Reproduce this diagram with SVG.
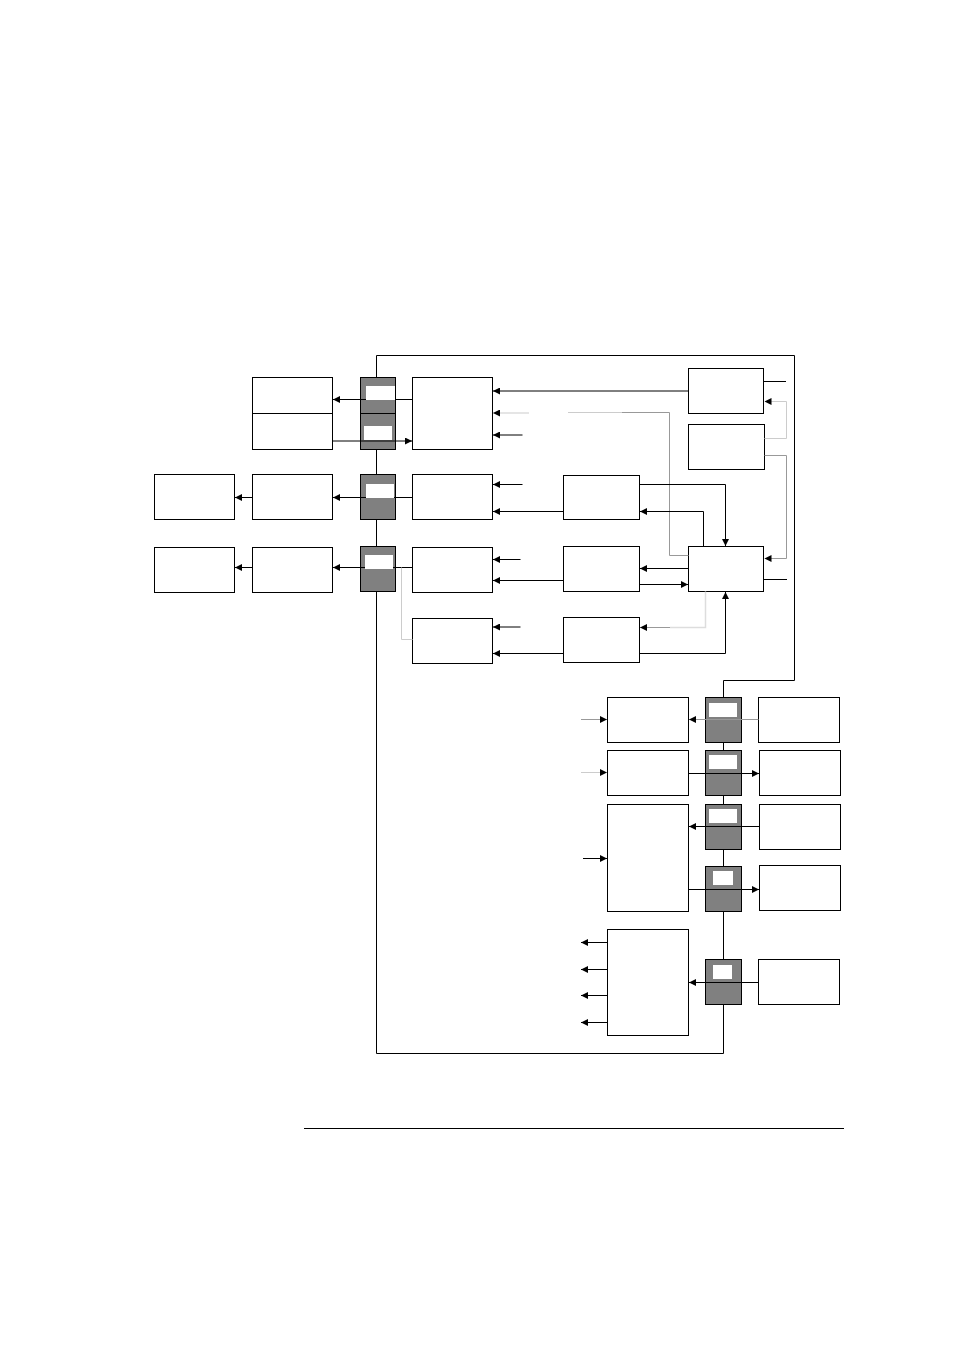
<svg xmlns="http://www.w3.org/2000/svg" width="954" height="1350" viewBox="0 0 954 1350">
<style>
.box{fill:#fff;stroke:#000;stroke-width:1}
.gb{fill:#808080;stroke:#000;stroke-width:1}
.win{fill:#fff;stroke:none}
.c{fill:none;stroke:#000;stroke-width:1}
.g1{fill:none;stroke:#999;stroke-width:1}
.g2{fill:none;stroke:#ccc;stroke-width:1}
.g3{fill:none;stroke:#ddd;stroke-width:1.5}
.a{marker-end:url(#ah)}
</style>
<defs>
<marker id="ah" viewBox="0 0 8 8" refX="8" refY="4" markerWidth="7" markerHeight="7" orient="auto" markerUnits="userSpaceOnUse">
<path d="M0,0 L8,4 L0,8 z" fill="#000"/>
</marker>
</defs>
<rect x="0" y="0" width="954" height="1350" fill="#fff"/>
<g id="nodes">
<g id="n1a"><rect class="box" x="252.5" y="377.5" width="80" height="36"/></g>
<g id="n1b"><rect class="box" x="252.5" y="413.5" width="80" height="36"/></g>
<g id="g1a"><rect class="gb" x="360.5" y="377.5" width="35" height="36"/><rect class="win" x="366" y="386" width="29" height="14"/></g>
<g id="g1b"><rect class="gb" x="360.5" y="413.5" width="35" height="36"/><rect class="win" x="364" y="426" width="28" height="14"/></g>
<g id="n1r"><rect class="box" x="412.5" y="377.5" width="80" height="72"/></g>
<g id="topA"><rect class="box" x="688.5" y="368.5" width="75" height="45"/></g>
<g id="topB"><rect class="box" x="688.5" y="424.5" width="76" height="45"/></g>
<g id="f2"><rect class="box" x="154.5" y="474.5" width="80" height="45"/></g>
<g id="n2"><rect class="box" x="252.5" y="474.5" width="80" height="45"/></g>
<g id="g2"><rect class="gb" x="360.5" y="474.5" width="35" height="45"/><rect class="win" x="366" y="484" width="28" height="14"/></g>
<g id="n2r"><rect class="box" x="412.5" y="474.5" width="80" height="45"/></g>
<g id="m2"><rect class="box" x="563.5" y="475.5" width="76" height="44"/></g>
<g id="f3"><rect class="box" x="154.5" y="547.5" width="80" height="45"/></g>
<g id="n3"><rect class="box" x="252.5" y="547.5" width="80" height="45"/></g>
<g id="g3"><rect class="gb" x="360.5" y="546.5" width="35" height="45"/><rect class="win" x="365" y="555" width="28" height="14"/></g>
<g id="n3r"><rect class="box" x="412.5" y="547.5" width="80" height="45"/></g>
<g id="m3"><rect class="box" x="563.5" y="546.5" width="76" height="45"/></g>
<g id="ctrl"><rect class="box" x="688.5" y="546.5" width="75" height="45"/></g>
<g id="n4r"><rect class="box" x="412.5" y="618.5" width="80" height="45"/></g>
<g id="m4"><rect class="box" x="563.5" y="617.5" width="76" height="45"/></g>
<g id="L1"><rect class="box" x="607.5" y="697.5" width="81" height="45"/></g>
<g id="L2"><rect class="box" x="607.5" y="750.5" width="81" height="45"/></g>
<g id="L3"><rect class="box" x="607.5" y="804.5" width="81" height="107"/></g>
<g id="L4"><rect class="box" x="607.5" y="929.5" width="81" height="106"/></g>
<g id="G1"><rect class="gb" x="705.5" y="697.5" width="36" height="45"/><rect class="win" x="709" y="703" width="28" height="14"/></g>
<g id="G2"><rect class="gb" x="705.5" y="750.5" width="36" height="45"/><rect class="win" x="709" y="755" width="28" height="14"/></g>
<g id="G3"><rect class="gb" x="705.5" y="804.5" width="36" height="45"/><rect class="win" x="709" y="809" width="28" height="14"/></g>
<g id="G4"><rect class="gb" x="705.5" y="866.5" width="36" height="45"/><rect class="win" x="713" y="871" width="20" height="14"/></g>
<g id="G5"><rect class="gb" x="705.5" y="959.5" width="36" height="45"/><rect class="win" x="713" y="965" width="19" height="14"/></g>
<g id="R1"><rect class="box" x="758.5" y="697.5" width="81" height="45"/></g>
<g id="R2"><rect class="box" x="759.5" y="750.5" width="81" height="45"/></g>
<g id="R3"><rect class="box" x="759.5" y="804.5" width="81" height="45"/></g>
<g id="R4"><rect class="box" x="759.5" y="865.5" width="81" height="45"/></g>
<g id="R5"><rect class="box" x="758.5" y="959.5" width="81" height="45"/></g>
</g>
<g id="connectors">
<path class="c" d="M376.5,377.5 V355.5 H794.5 V680.5 H723.5 V697.5"/>
<path class="c" d="M376.5,449.5 V474.5 M376.5,519.5 V546.5 M376.5,591.5 V1053.5 H723.5 V1004.5"/>
<path class="c" d="M723.5,742.5 V750.5 M723.5,795.5 V804.5 M723.5,849.5 V866.5 M723.5,911.5 V959.5"/>
<path class="c" d="M412.5,399.5 H395"/>
<path class="c a" d="M366,399.5 H333"/>
<path class="c a" d="M332.5,441 H412"/>
<path class="c a" d="M688.5,391 H493"/>
<path class="g3 a" d="M529,413 H493"/>
<path class="g2" d="M568,412.5 H622"/>
<path class="g1" d="M622,412.5 H669.5 V555.5 H688.5"/>
<path class="c a" d="M522.5,435 H493"/>
<path class="c" d="M764,381.5 H786"/>
<path class="g2 a" d="M764.5,438.5 H786.5 V401.5 H764.5"/>
<path class="g1 a" d="M764.5,455.5 H786.5 V558.5 H764.5"/>
<path class="c a" d="M639.5,484.5 H725.5 V546"/>
<path class="c a" d="M703.5,546.5 V511.5 H640"/>
<path class="c a" d="M563.5,511.5 H493"/>
<path class="c a" d="M522.5,484.5 H493"/>
<path class="c" d="M412.5,497.5 H394"/>
<path class="c a" d="M366,497.5 H333"/>
<path class="c a" d="M252.5,497.5 H235"/>
<path class="c" d="M412.5,567.5 H393"/>
<path class="c a" d="M365,567.5 H333"/>
<path class="c a" d="M252.5,567.5 H235"/>
<path class="c a" d="M520.5,559.5 H493"/>
<path class="c a" d="M563.5,580.5 H493"/>
<path class="g2" d="M401.5,567.5 V639.5 H412.5"/>
<path class="c a" d="M688.5,568.5 H640"/>
<path class="c a" d="M639.5,584.5 H688"/>
<path class="c" d="M764,579.5 H787"/>
<path class="c a" d="M639.5,653.5 H725.5 V592"/>
<path class="g3" d="M705.5,591.5 V627.5 H670"/>
<path class="g1 a" d="M670,627.5 H640"/>
<path class="c a" d="M520.5,627 H493"/>
<path class="c a" d="M563.5,653.5 H493"/>
<path class="g1 a" d="M758.5,719.5 H689"/>
<path class="c a" d="M688.5,773.5 H759"/>
<path class="c a" d="M759.5,826.5 H689"/>
<path class="c a" d="M688.5,889.5 H759"/>
<path class="c a" d="M758.5,982.5 H689"/>
<path class="g1 a" d="M581,719.5 H607"/>
<path class="g2 a" d="M581,772.5 H607"/>
<path class="c a" d="M583,858.5 H607"/>
<path class="c a" d="M607.5,942.5 H581"/>
<path class="c a" d="M607.5,969.5 H581"/>
<path class="c a" d="M607.5,995.5 H581"/>
<path class="c a" d="M607.5,1022.5 H581"/>
</g>
<path class="c" d="M304,1128.5 H844"/>
</svg>
